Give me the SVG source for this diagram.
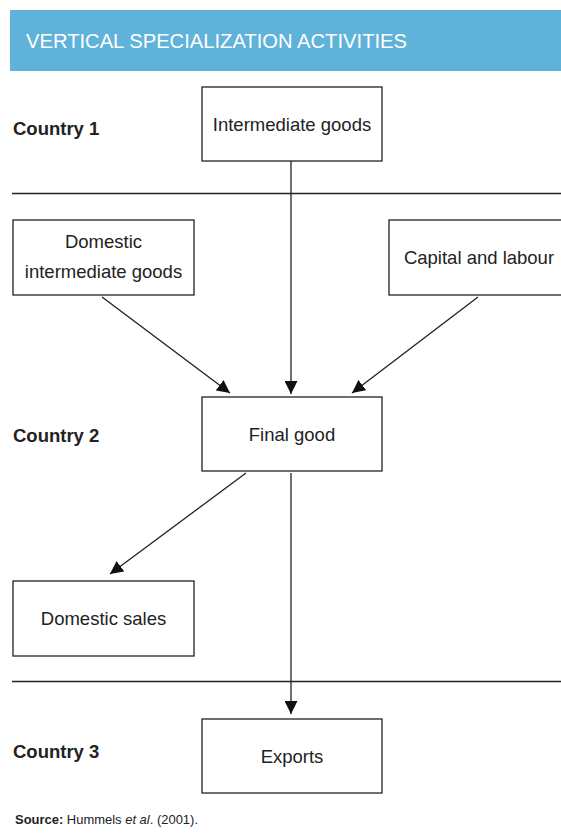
<svg xmlns="http://www.w3.org/2000/svg" width="561" height="834" viewBox="0 0 561 834">
<style>
.box{fill:#fff;stroke:#222;stroke-width:1.3}
.t{font-family:"Liberation Sans",Arial,sans-serif;font-size:18.5px;fill:#222;text-anchor:middle}
.c{font-family:"Liberation Sans",Arial,sans-serif;font-size:18.5px;font-weight:bold;fill:#222}
.ln{stroke:#222;stroke-width:1.3;fill:none}
</style>
<defs>
<marker id="ah" viewBox="0 0 12 12" refX="12" refY="6" markerWidth="13" markerHeight="13" markerUnits="userSpaceOnUse" orient="auto">
<path d="M0,0 L12,6 L0,12 Z" fill="#111"/>
</marker>
</defs>
<rect width="561" height="834" fill="#fff"/>
<g id="header">
<rect x="10" y="10" width="551" height="61" fill="#5fb2d9"/>
<text x="26" y="48" font-family="'Liberation Sans',Arial,sans-serif" font-size="20.3" fill="#fff" textLength="381" lengthAdjust="spacingAndGlyphs">VERTICAL SPECIALIZATION ACTIVITIES</text>
</g>
<g id="separators">
<line class="ln" x1="12" y1="193.5" x2="561" y2="193.5"/>
<line class="ln" x1="12" y1="681.5" x2="561" y2="681.5"/>
</g>
<g id="labels">
<text class="c" x="13" y="135">Country 1</text>
<text class="c" x="13" y="442">Country 2</text>
<text class="c" x="13" y="758">Country 3</text>
</g>
<g id="connectors">
<line class="ln" x1="291" y1="161" x2="291" y2="394" marker-end="url(#ah)"/>
<line class="ln" x1="102" y1="297" x2="230" y2="393" marker-end="url(#ah)"/>
<line class="ln" x1="478" y1="297" x2="352" y2="393" marker-end="url(#ah)"/>
<line class="ln" x1="246" y1="473" x2="110" y2="574" marker-end="url(#ah)"/>
<line class="ln" x1="291" y1="473" x2="291" y2="714" marker-end="url(#ah)"/>
</g>
<g id="intermediate-goods">
<rect class="box" x="202" y="87" width="180" height="74"/>
<text class="t" x="292" y="131">Intermediate goods</text>
</g>
<g id="domestic-intermediate-goods">
<rect class="box" x="13" y="220" width="181" height="75"/>
<text class="t" x="103.5" y="248">Domestic</text>
<text class="t" x="103.5" y="278">intermediate goods</text>
</g>
<g id="capital-and-labour">
<rect class="box" x="389" y="220" width="180" height="75"/>
<text class="t" x="479" y="264">Capital and labour</text>
</g>
<g id="final-good">
<rect class="box" x="202" y="397" width="180" height="74"/>
<text class="t" x="292" y="441">Final good</text>
</g>
<g id="domestic-sales">
<rect class="box" x="13" y="581" width="181" height="75"/>
<text class="t" x="103.5" y="625">Domestic sales</text>
</g>
<g id="exports">
<rect class="box" x="202" y="719" width="180" height="74"/>
<text class="t" x="292" y="763">Exports</text>
</g>
<g id="source">
<text x="15" y="824" font-family="'Liberation Sans',Arial,sans-serif" font-size="13" fill="#222" textLength="183" lengthAdjust="spacingAndGlyphs"><tspan font-weight="bold">Source:</tspan> Hummels <tspan font-style="italic">et al</tspan>. (2001).</text>
</g>
</svg>
